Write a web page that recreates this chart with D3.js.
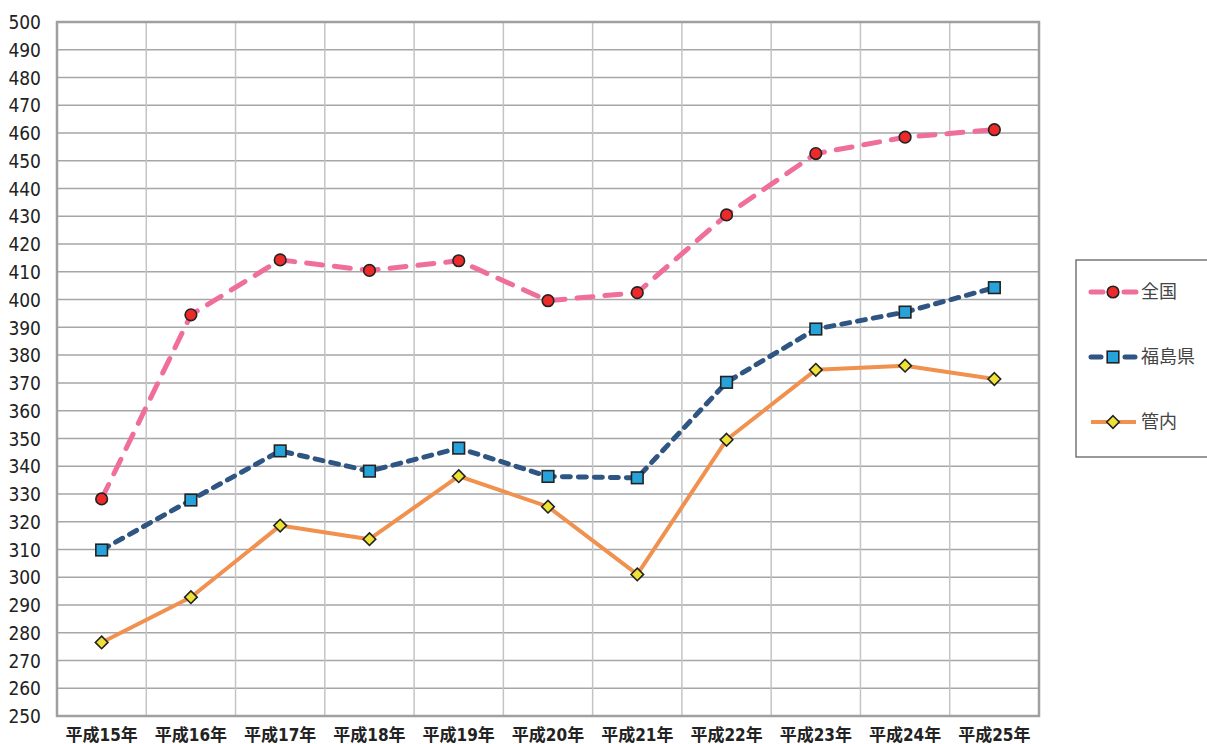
<!DOCTYPE html>
<html>
<head>
<meta charset="utf-8">
<script src="https://cdn.jsdelivr.net/npm/d3@7"></script>
<style>
  body { margin: 0; background: #fff; }
  svg text { font-family: "Liberation Sans Narrow", "DejaVu Sans Condensed", "Noto Sans CJK JP", sans-serif; fill: #222; }
</style>
</head>
<body>
<div id="chart"></div>
<script>
(function() {

const width = 1207,
      height = 744

// data
const years = ['平成15年', '平成16年', '平成17年', '平成18年', '平成19年', '平成20年',
               '平成21年', '平成22年', '平成23年', '平成24年', '平成25年']
const zenkoku = [328.2, 394.5, 414.3, 410.5, 414.0, 399.6, 402.5, 430.5, 452.6, 458.5, 461.2]
const fukushima = [309.8, 327.8, 345.5, 338.2, 346.5, 336.3, 335.8, 370.2, 389.4, 395.5, 404.3]
const kannai = [276.5, 292.8, 318.6, 313.7, 336.4, 325.4, 301.0, 349.5, 374.7, 376.2, 371.4]
const yTicks = d3.range(250, 501, 10)

const series = [
  { name: '全国', values: zenkoku, color: '#f06e9a', dash: '16,12', width: 5, marker: 'circle', fill: '#ec2a2a' },
  { name: '福島県', values: fukushima, color: '#2f5583', dash: '8,8', width: 5, marker: 'square', fill: '#27a3db' },
  { name: '管内', values: kannai, color: '#f0914f', dash: null, width: 4, marker: 'diamond', fill: '#eee235' }
]

const margin = { left: 57, right: 168, top: 22, bottom: 28 }
const plotW = width - margin.left - margin.right,
      plotH = height - margin.top - margin.bottom

const svg = d3.select('#chart')
  .append('svg')
  .attr('width', width)
  .attr('height', height)

const g = svg.append('g')
  .attr('transform', 'translate(' + margin.left + ',' + margin.top + ')')

const x = d3.scaleBand()
  .domain(years)
  .range([0, plotW])

const y = d3.scaleLinear()
  .domain([250, 500])
  .range([plotH, 0])

// horizontal grid
g.append('g')
  .selectAll('line')
  .data(yTicks)
  .enter()
  .append('line')
  .attr('x1', 0)
  .attr('x2', plotW)
  .attr('y1', d => y(d))
  .attr('y2', d => y(d))
  .attr('stroke', '#a6a6a8')
  .attr('stroke-width', 1.5)

// vertical grid at band edges
g.append('g')
  .selectAll('line')
  .data(years.slice(1))
  .enter()
  .append('line')
  .attr('x1', d => x(d))
  .attr('x2', d => x(d))
  .attr('y1', 0)
  .attr('y2', plotH)
  .attr('stroke', '#c4c4c6')
  .attr('stroke-width', 1.5)

// plot border
g.append('rect')
  .attr('width', plotW)
  .attr('height', plotH)
  .attr('fill', 'none')
  .attr('stroke', '#a0a0a2')
  .attr('stroke-width', 2.5)

// y axis
const yAxis = g.append('g')
  .call(d3.axisLeft(y).tickValues(yTicks).tickSize(0).tickPadding(16))
yAxis.select('.domain').remove()
yAxis.selectAll('text')
  .style('font-size', '19px')
  .attr('dy', '0.35em')

// x axis
const xAxis = g.append('g')
  .attr('transform', 'translate(0,' + plotH + ')')
  .call(d3.axisBottom(x).tickSize(0).tickPadding(13))
xAxis.select('.domain').remove()
xAxis.selectAll('text')
  .style('font-size', '17px')
  .style('font-weight', 'bold')
  .attr('dy', '0.71em')

const cx = (d, i) => x(years[i]) + x.bandwidth() / 2

const line = d3.line()
  .x(cx)
  .y(d => y(d))

function drawMarker(sel, type, fill) {
  if (type === 'circle') {
    sel.append('circle').attr('r', 5.8)
  } else if (type === 'square') {
    sel.append('rect').attr('x', -5.8).attr('y', -5.8).attr('width', 11.6).attr('height', 11.6)
  } else {
    sel.append('path').attr('d', 'M0,-6.3L6.3,0L0,6.3L-6.3,0Z')
  }
  sel.selectAll('circle,rect,path')
    .attr('fill', fill)
    .attr('stroke', '#222')
    .attr('stroke-width', 1.6)
}

series.forEach(function(s) {
  g.append('path')
    .datum(s.values)
    .attr('d', line)
    .attr('fill', 'none')
    .attr('stroke', s.color)
    .attr('stroke-width', s.width)
    .attr('stroke-dasharray', s.dash)
    .attr('stroke-linecap', s.dash ? 'round' : 'butt')
    .attr('stroke-linejoin', 'round')
})

series.forEach(function(s) {
  g.append('g')
    .selectAll('g')
    .data(s.values)
    .enter()
    .append('g')
    .attr('transform', (d, i) => 'translate(' + cx(d, i) + ',' + y(d) + ')')
    .each(function() { drawMarker(d3.select(this), s.marker, s.fill) })
})

// legend
const legend = svg.append('g')
  .attr('transform', 'translate(1076,260)')

legend.append('rect')
  .attr('width', 140)
  .attr('height', 197)
  .attr('fill', '#fff')
  .attr('stroke', '#555')
  .attr('stroke-width', 1.2)

const items = legend.selectAll('.item')
  .data(series)
  .enter()
  .append('g')
  .attr('class', 'item')
  .attr('transform', (d, i) => 'translate(0,' + (32 + i * 65) + ')')

items.append('line')
  .attr('x1', 15)
  .attr('x2', 60)
  .attr('stroke', d => d.color)
  .attr('stroke-width', d => d.width)
  .attr('stroke-dasharray', d => d.marker === 'circle' ? '12,21' : (d.marker === 'square' ? '10,24' : null))
  .attr('stroke-linecap', d => d.dash ? 'round' : 'butt')

items.append('g')
  .attr('transform', 'translate(37,0)')
  .each(function(d) { drawMarker(d3.select(this), d.marker, d.fill) })

items.append('text')
  .attr('x', 65)
  .attr('dy', '0.35em')
  .style('font-size', '18px')
  .style('fill', '#444')
  .text(d => d.name)

})()
</script>
</body>
</html>
